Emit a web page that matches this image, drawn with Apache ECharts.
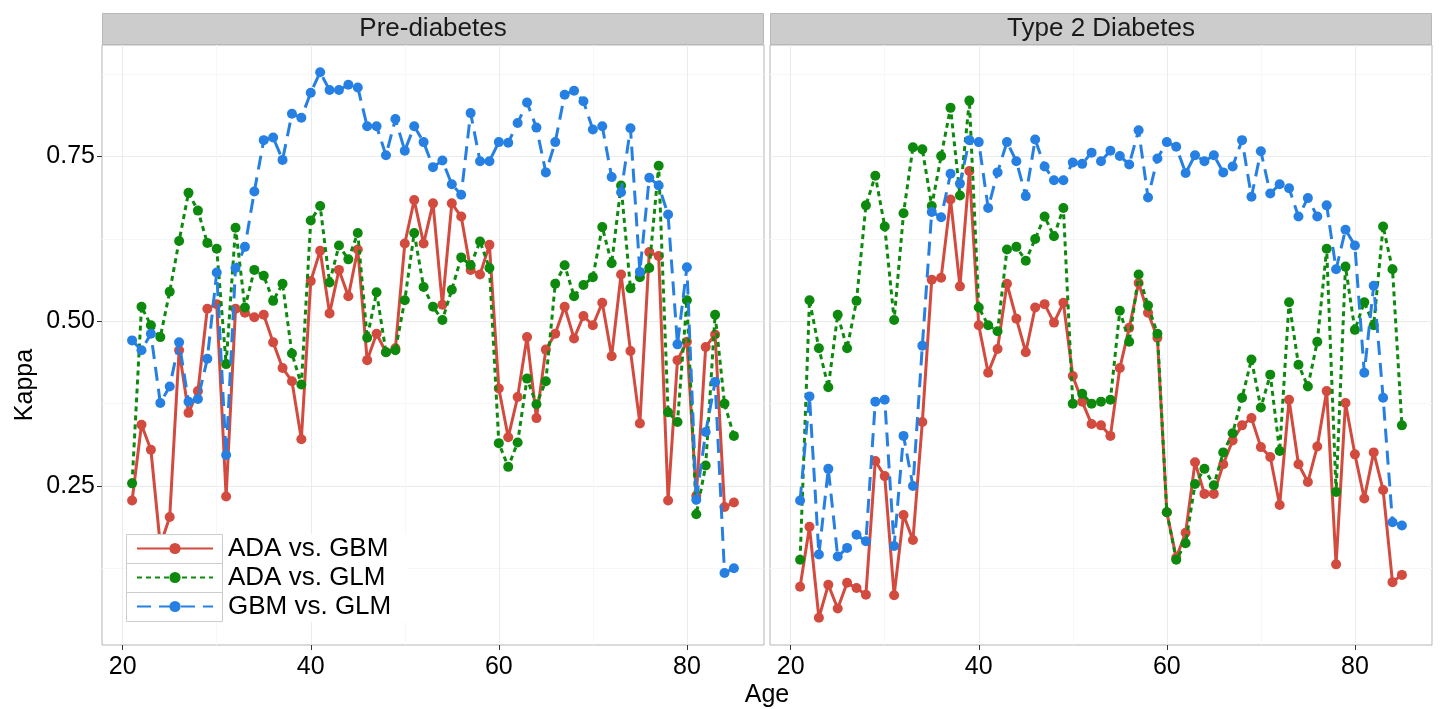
<!DOCTYPE html>
<html>
<head>
<meta charset="utf-8">
<title>Kappa by age</title>
<script src="https://cdn.jsdelivr.net/npm/echarts@6.0.0/dist/echarts.min.js"></script>
<style>
  html, body { margin: 0; padding: 0; background: #fff; }
  #chart { width: 1440px; height: 709px; }
</style>
</head>
<body>
<div id="chart"></div>
<script>
// x values (age) shared by every series
const ages = [21, 22, 23, 24, 25, 26, 27, 28, 29, 30, 31, 32, 33, 34, 35, 36, 37, 38, 39, 40,
  41, 42, 43, 44, 45, 46, 47, 48, 49, 50, 51, 52, 53, 54, 55, 56, 57, 58, 59, 60,
  61, 62, 63, 64, 65, 66, 67, 68, 69, 70, 71, 72, 73, 74, 75, 76, 77, 78, 79, 80,
  81, 82, 83, 84, 85];

const panels = ['Pre-diabetes', 'Type 2 Diabetes'];
const seriesNames = ['ADA vs. GBM', 'ADA vs. GLM', 'GBM vs. GLM'];

// Pre-diabetes
const preAdaGbm = [0.228, 0.343, 0.305, 0.16, 0.203, 0.456, 0.361, 0.394, 0.519, 0.526,
  0.234, 0.519, 0.513, 0.506, 0.510, 0.468, 0.429, 0.409, 0.321, 0.561,
  0.607, 0.512, 0.578, 0.538, 0.609, 0.441, 0.481, 0.453, 0.459, 0.618,
  0.684, 0.618, 0.679, 0.525, 0.679, 0.659, 0.578, 0.571, 0.616, 0.398,
  0.324, 0.385, 0.476, 0.353, 0.457, 0.481, 0.522, 0.474, 0.508, 0.494,
  0.528, 0.447, 0.571, 0.455, 0.345, 0.605, 0.599, 0.228, 0.441, 0.469,
  0.235, 0.461, 0.480, 0.218, 0.225];
const preAdaGlm = [0.254, 0.522, 0.494, 0.476, 0.545, 0.622, 0.695, 0.668, 0.619, 0.610,
  0.435, 0.642, 0.521, 0.578, 0.569, 0.531, 0.557, 0.451, 0.404, 0.653,
  0.675, 0.559, 0.615, 0.594, 0.634, 0.475, 0.544, 0.453, 0.456, 0.532,
  0.634, 0.552, 0.522, 0.502, 0.548, 0.597, 0.585, 0.621, 0.581, 0.315,
  0.279, 0.316, 0.413, 0.374, 0.409, 0.557, 0.585, 0.538, 0.555, 0.567,
  0.643, 0.588, 0.706, 0.550, 0.567, 0.581, 0.736, 0.362, 0.347, 0.532,
  0.207, 0.281, 0.510, 0.375, 0.326];
const preGbmGlm = [0.471, 0.456, 0.481, 0.376, 0.401, 0.468, 0.378, 0.382, 0.443, 0.574,
  0.297, 0.581, 0.613, 0.697, 0.775, 0.779, 0.745, 0.815, 0.809, 0.847,
  0.878, 0.851, 0.851, 0.859, 0.855, 0.796, 0.796, 0.752, 0.807, 0.759,
  0.796, 0.772, 0.734, 0.744, 0.708, 0.692, 0.816, 0.743, 0.743, 0.772,
  0.771, 0.801, 0.832, 0.794, 0.726, 0.772, 0.844, 0.850, 0.834, 0.791,
  0.796, 0.719, 0.696, 0.793, 0.575, 0.718, 0.706, 0.662, 0.465, 0.582,
  0.229, 0.332, 0.408, 0.118, 0.125];

// Type 2 Diabetes
const t2dAdaGbm = [0.097, 0.188, 0.050, 0.100, 0.064, 0.103, 0.095, 0.085, 0.288, 0.265,
  0.084, 0.206, 0.168, 0.347, 0.563, 0.566, 0.685, 0.553, 0.728, 0.494,
  0.422, 0.458, 0.557, 0.504, 0.453, 0.521, 0.526, 0.498, 0.528, 0.417,
  0.378, 0.344, 0.342, 0.326, 0.429, 0.490, 0.558, 0.513, 0.475, 0.210,
  0.141, 0.179, 0.286, 0.238, 0.238, 0.283, 0.319, 0.342, 0.353, 0.309,
  0.294, 0.221, 0.381, 0.283, 0.256, 0.310, 0.394, 0.131, 0.376, 0.298,
  0.231, 0.301, 0.244, 0.104, 0.115];
const t2dAdaGlm = [0.138, 0.532, 0.459, 0.400, 0.510, 0.459, 0.531, 0.676, 0.721, 0.644,
  0.502, 0.664, 0.764, 0.761, 0.675, 0.751, 0.824, 0.691, 0.835, 0.521,
  0.494, 0.485, 0.609, 0.613, 0.592, 0.625, 0.659, 0.629, 0.672, 0.375,
  0.390, 0.375, 0.378, 0.381, 0.516, 0.469, 0.571, 0.524, 0.481, 0.210,
  0.138, 0.163, 0.253, 0.276, 0.251, 0.301, 0.330, 0.384, 0.442, 0.369,
  0.419, 0.303, 0.529, 0.434, 0.401, 0.469, 0.610, 0.241, 0.583, 0.487,
  0.529, 0.494, 0.644, 0.579, 0.342];
const t2dGbmGlm = [0.228, 0.386, 0.146, 0.276, 0.143, 0.156, 0.176, 0.166, 0.378, 0.381,
  0.159, 0.326, 0.250, 0.463, 0.666, 0.658, 0.724, 0.709, 0.775, 0.772,
  0.672, 0.726, 0.772, 0.743, 0.690, 0.776, 0.735, 0.714, 0.714, 0.741,
  0.739, 0.756, 0.743, 0.759, 0.751, 0.738, 0.790, 0.688, 0.747, 0.772,
  0.765, 0.725, 0.752, 0.743, 0.752, 0.726, 0.735, 0.775, 0.689, 0.758,
  0.694, 0.708, 0.702, 0.659, 0.687, 0.659, 0.676, 0.579, 0.639, 0.615,
  0.422, 0.554, 0.384, 0.195, 0.190];

const xTicks = [20, 40, 60, 80];
const xMinor = [30, 50, 70];
const yTicks = [0.25, 0.5, 0.75];
const yMinor = [0.125, 0.375, 0.625, 0.875];

const panelData = [[preAdaGbm, preAdaGlm, preGbmGlm], [t2dAdaGbm, t2dAdaGlm, t2dGbmGlm]];
const colors = ['#d24b3e', '#0d8a0d', '#2680e3'];
const lineTypes = ['solid', [5, 4], [14, 8]];
const font = '"Liberation Sans", Arial, sans-serif';

const grids = [
  { left: 102, top: 45, width: 662, height: 600 },
  { left: 770, top: 45, width: 662, height: 600 }
];

const chart = echarts.init(document.getElementById('chart'));

const xAxis = [];
const yAxis = [];
grids.forEach((g, i) => {
  xAxis.push({
    gridIndex: i, type: 'value', min: 17.8, max: 88.2,
    axisLine: { show: false },
    axisTick: { customValues: xTicks, length: 5, lineStyle: { color: '#333' } },
    axisLabel: { customValues: xTicks, fontSize: 25, color: '#000', margin: 10, fontFamily: font },
    splitLine: { lineStyle: { color: '#ebebeb', width: 1 } }
  });
  yAxis.push({
    gridIndex: i, type: 'value', min: 0.0086, max: 0.9194,
    axisLine: { show: false },
    axisTick: { show: i === 0, customValues: yTicks, length: 5, lineStyle: { color: '#333' } },
    axisLabel: {
      show: i === 0, customValues: yTicks, fontSize: 25, color: '#000', margin: 7, fontFamily: font,
      formatter: v => v.toFixed(2)
    },
    splitLine: { lineStyle: { color: '#ebebeb', width: 1 } }
  });
});
// minor grid lines
grids.forEach((g, i) => {
  xAxis.push({
    gridIndex: i, type: 'value', min: 17.8, max: 88.2, position: 'bottom',
    axisLine: { show: false }, axisLabel: { show: false },
    axisTick: { show: false, customValues: xMinor },
    splitLine: { lineStyle: { color: '#f7f7f7', width: 1 } }
  });
  yAxis.push({
    gridIndex: i, type: 'value', min: 0.0086, max: 0.9194, position: 'left',
    axisLine: { show: false }, axisLabel: { show: false },
    axisTick: { show: false, customValues: yMinor },
    splitLine: { lineStyle: { color: '#f7f7f7', width: 1 } }
  });
});

const series = [];
panelData.forEach((group, p) => {
  group.forEach((vals, k) => {
    series.push({
      name: seriesNames[k],
      type: 'line',
      xAxisIndex: p,
      yAxisIndex: p,
      data: ages.map((a, j) => [a, vals[j]]),
      symbol: 'circle',
      symbolSize: 10,
      itemStyle: { color: colors[k] },
      lineStyle: { color: colors[k], width: 3, type: lineTypes[k] },
      z: 2 + k
    });
  });
});

const graphic = [
  { type: 'rect', z: 10, silent: true, shape: { x: 126, y: 534, width: 282, height: 88 }, style: { fill: '#fff' } }
];
[0, 1, 2].forEach(r => {
  graphic.push({
    type: 'rect', z: 11, silent: true,
    shape: { x: 126.5, y: 534.5 + r * 29, width: 96, height: 29 },
    style: { fill: '#fff', stroke: '#cccccc', lineWidth: 1 }
  });
});
grids.forEach((g, i) => {
  graphic.push({
    type: 'rect', silent: true,
    shape: { x: g.left + 0.5, y: 13.5, width: g.width - 1, height: 31 },
    style: { fill: '#cccccc', stroke: '#b8b8b8', lineWidth: 1 }
  });
  graphic.push({
    type: 'text', silent: true, x: g.left + g.width / 2, y: 29,
    style: { text: panels[i], fill: '#1a1a1a', font: '26px ' + font, align: 'center', verticalAlign: 'middle' }
  });
});
graphic.push({
  type: 'text', silent: true, x: 767, y: 695,
  style: { text: 'Age', fill: '#000', font: '25px ' + font, align: 'center', verticalAlign: 'middle' }
});
graphic.push({
  type: 'text', silent: true, x: 25, y: 385, rotation: Math.PI / 2,
  style: { text: 'Kappa', fill: '#000', font: '25px ' + font, align: 'center', verticalAlign: 'middle' }
});

const option = {
  animation: false,
  backgroundColor: '#fff',
  grid: grids.map(g => Object.assign({ show: true, backgroundColor: '#fff', borderColor: '#b5b5b5', borderWidth: 1 }, g)),
  xAxis: xAxis,
  yAxis: yAxis,
  legend: {
    data: seriesNames,
    orient: 'vertical',
    left: 136,
    top: 534,
    padding: 0,
    itemGap: 0,
    itemWidth: 76,
    itemHeight: 14,
    selectedMode: false,
    z: 20,
    textStyle: { fontSize: 26, fontFamily: font, color: '#000', lineHeight: 29, padding: [0, 0, 0, 10] }
  },
  graphic: graphic,
  series: series
};
chart.setOption(option);
</script>
</body>
</html>
